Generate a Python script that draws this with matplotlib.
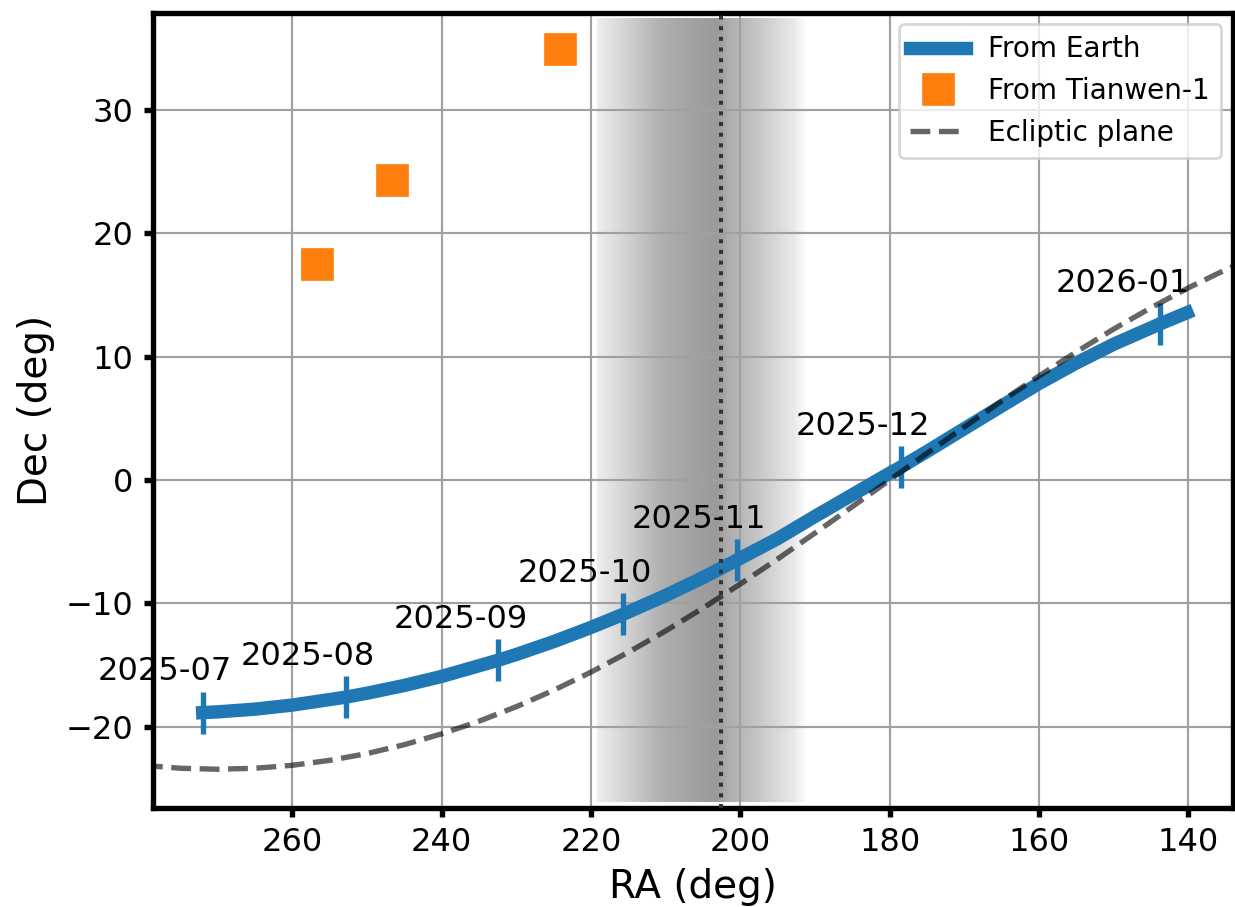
import numpy as np
import matplotlib
matplotlib.use("Agg")
import matplotlib.pyplot as plt

# ---------------- data ----------------
earth_ra = [272.0, 270, 265, 260, 252.85, 250, 245, 240, 232.4, 230, 225, 220,
            215.75, 210, 205, 200.5, 195, 190, 185, 180, 178.5, 175, 170, 165,
            160, 155, 150, 145, 143.8, 140.2]
earth_dec = [-18.85, -18.79, -18.57, -18.24, -17.6, -17.28, -16.65, -15.92, -14.6,
             -14.14, -13.1, -11.95, -10.9, -9.36, -7.91, -6.5, -4.75, -2.95, -1.2,
             0.55, 1.05, 2.31, 4.16, 6.0, 7.82, 9.48, 11.0, 12.33, 12.65, 13.55]

month_labels = ["2025-07", "2025-08", "2025-09", "2025-10", "2025-11", "2025-12", "2026-01"]
month_ra = [272.0, 252.85, 232.4, 215.75, 200.5, 178.5, 143.8]
month_dec = [-18.85, -17.6, -14.6, -10.9, -6.5, 1.05, 12.65]

tw_ra = [256.7, 246.6, 224.15]
tw_dec = [17.5, 24.3, 34.9]

ecl_ra = [280, 275, 270, 265, 260, 255, 250, 245, 240, 235, 230, 225, 220, 215,
          210, 205, 200, 195, 190, 185, 180, 175, 170, 165, 160, 155, 150, 145,
          140, 135, 130]
ecl_dec = [-23.12, -23.36, -23.44, -23.36, -23.12, -22.72, -22.17, -21.45, -20.57,
           -19.55, -18.37, -17.04, -15.57, -13.96, -12.23, -10.38, -8.43, -6.40,
           -4.30, -2.16, 0.0, 2.16, 4.30, 6.40, 8.43, 10.38, 12.23, 13.96, 15.57,
           17.04, 18.37]

conj_ra = 202.6

# shaded band profile (RA knots and darkness)
band_ra = [219.2, 215.2, 210.8, 206.4, 203.1, 201.8, 197.4, 192.9, 191.0]
band_alpha = [0.07, 0.18, 0.31, 0.37, 0.40, 0.33, 0.22, 0.09, 0.0]

xticks = [260, 240, 220, 200, 180, 160, 140]
yticks = [-20, -10, 0, 10, 20, 30]

# ---------------- figure ----------------
DPI = 193
fig = plt.figure(figsize=(1235 / DPI, 907 / DPI), dpi=DPI)
ax = fig.add_axes([152.5 / 1235, 1 - 808 / 907, (1232.5 - 152.5) / 1235, (808 - 13) / 907])

# gray band as an image
xs = np.linspace(band_ra[0], band_ra[-1], 400)
alpha_row = np.interp(xs[::-1], band_ra[::-1], band_alpha[::-1])[::-1]
img = np.zeros((2, len(xs), 4))
img[..., 3] = alpha_row[None, :]
ax.imshow(img, extent=[band_ra[0], band_ra[-1], -26.07, 37.44], aspect="auto",
          interpolation="bilinear", zorder=0)

ax.grid(True, color="#a0a0a0", linewidth=0.8, zorder=1)

ax.plot(earth_ra, earth_dec, color="C0", lw=5, label="From Earth", zorder=3)
ax.plot(month_ra, month_dec, ls="none", marker="|", ms=16, mew=2, color="C0", zorder=3)
for lab, r, d in zip(month_labels, month_ra, month_dec):
    ax.annotate(lab, (r, d), xytext=(-14, 12), textcoords="offset points",
                ha="center", va="baseline", fontsize=12, zorder=5)

ax.plot(tw_ra, tw_dec, ls="none", marker="s", ms=11, color="C1",
        label="From Tianwen-1", zorder=4)
ax.plot(ecl_ra, ecl_dec, color="k", alpha=0.6, lw=2, ls="--",
        label="Ecliptic plane", zorder=4)
ax.axvline(conj_ra, color="0.2", lw=1.5, ls=":", zorder=4)

ax.set_xlim(278.72, 134.09)
ax.set_ylim(-26.58, 37.84)
ax.set_xticks(xticks)
ax.set_yticks(yticks)
ax.tick_params(labelsize=12, width=2, length=3.5)
for s in ax.spines.values():
    s.set_linewidth(2)
ax.set_xlabel("RA (deg)", fontsize=14.5)
ax.set_ylabel("Dec (deg)", fontsize=14.5)
ax.legend(loc="upper right", fontsize=10.4, borderaxespad=0.4)

fig.savefig("out.png", dpi=DPI)
